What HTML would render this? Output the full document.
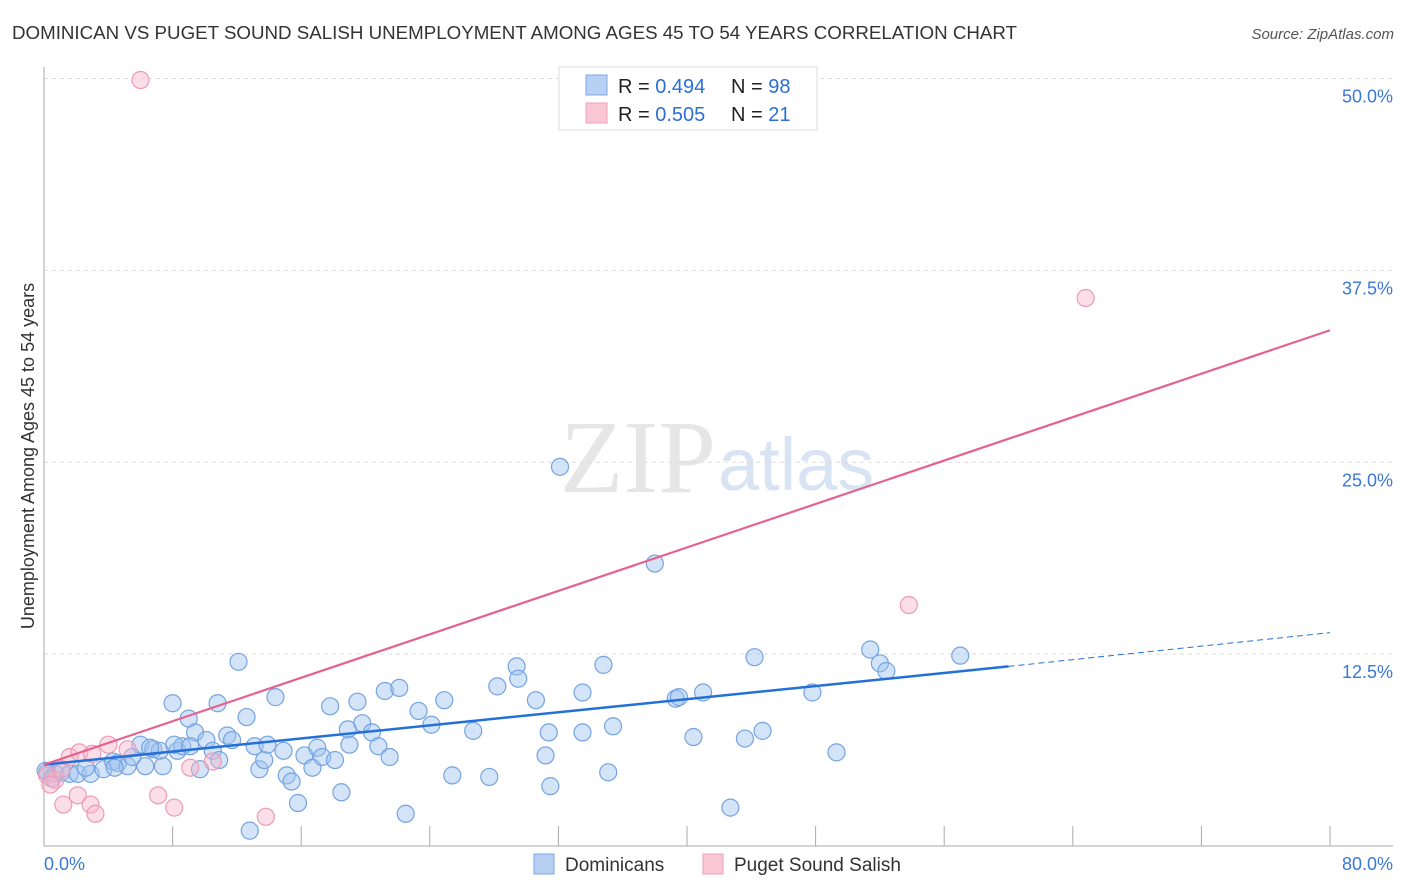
<!DOCTYPE html>
<html><head><meta charset="utf-8">
<style>
body{margin:0;background:#fff;font-family:"Liberation Sans",sans-serif;}
#wrap{position:relative;width:1406px;height:892px;overflow:hidden;}
</style></head>
<body>
<div id="wrap">
<svg id="svg" width="1406" height="892" xmlns="http://www.w3.org/2000/svg">
<text x="12" y="39" font-size="18" fill="#333" textLength="1005" lengthAdjust="spacingAndGlyphs">DOMINICAN VS PUGET SOUND SALISH UNEMPLOYMENT AMONG AGES 45 TO 54 YEARS CORRELATION CHART</text>
<text x="1394" y="39" font-size="15" fill="#555" font-style="italic" text-anchor="end">Source: ZipAtlas.com</text>
<text x="716" y="492" font-size="104" fill="#e6e6e6" font-family="Liberation Serif,serif" text-anchor="end">ZIP</text>
<text x="718" y="490" font-size="74" fill="#d8e4f4">atlas</text>
<text transform="translate(34,456) rotate(-90)" font-size="18" fill="#333" text-anchor="middle">Unemployment Among Ages 45 to 54 years</text>
<g id="grid"></g><g id="axes"></g><g id="pts"></g><g id="lines"></g>
<g>
<rect x="559" y="67" width="258" height="63" fill="#fff" stroke="#ddd"/>
<rect x="586" y="75" width="21" height="20" fill="#b7d0f3" stroke="#7fa8e0"/>
<rect x="586" y="103" width="21" height="20" fill="#f8c6d4" stroke="#eea0b8"/>
<text x="618" y="93" font-size="20" fill="#222">R = <tspan fill="#2b6fd6">0.494</tspan><tspan x="731">N = </tspan><tspan fill="#2b6fd6">98</tspan></text>
<text x="618" y="121" font-size="20" fill="#222">R = <tspan fill="#2b6fd6">0.505</tspan><tspan x="731">N = </tspan><tspan fill="#2b6fd6"> 21</tspan></text>
</g>
<g>
<rect x="534" y="854" width="20" height="20" fill="#b7d0f3" stroke="#7fa8e0"/>
<text x="565" y="871" font-size="19" fill="#333">Dominicans</text>
<rect x="703" y="854" width="20" height="20" fill="#f8c6d4" stroke="#eea0b8"/>
<text x="734" y="871" font-size="19" fill="#333">Puget Sound Salish</text>
</g>
</svg>
</div>
<script>
const yTicks=[12.5,25,37.5,50];
const yTickLabels=["12.5%","25.0%","37.5%","50.0%"];
const xTickCount=10;
const blueX=[0.2,0.7,1.1,1.6,2.1,2.9,3.7,4.3,4.6,5.2,5.5,6.0,6.3,6.8,7.2,7.4,8.0,8.3,8.6,9.0,9.4,9.7,10.1,10.5,10.8,10.9,11.4,11.7,12.1,12.6,12.8,13.1,13.4,13.7,13.9,14.4,14.9,15.1,15.4,15.8,16.2,16.7,17.0,17.3,17.8,18.1,18.5,18.9,19.0,19.5,19.8,20.4,20.8,21.2,21.5,22.1,22.5,23.3,24.1,24.9,25.4,26.7,27.7,28.2,29.4,29.5,30.6,31.2,31.4,31.5,32.1,33.5,33.5,34.8,35.1,35.4,38.0,39.3,39.5,40.4,41.0,42.7,43.6,44.2,44.7,47.8,49.3,51.4,52.0,52.4,57.0,0.1,0.5,2.6,4.4,6.6,8.1,9.1];
const blueY=[4.8,4.7,4.8,4.7,4.7,4.7,5.0,5.5,5.4,5.2,5.8,6.6,5.2,6.3,6.2,5.2,9.3,6.2,6.5,8.3,7.4,5.0,6.9,6.2,9.3,5.6,7.2,6.9,12.0,8.4,1.0,6.5,5.0,5.6,6.6,9.7,6.2,4.6,4.2,2.8,5.9,5.1,6.4,5.8,9.1,5.6,3.5,7.6,6.6,9.4,8.0,7.4,6.5,10.1,5.8,10.3,2.1,8.8,7.9,9.5,4.6,7.5,4.5,10.4,11.7,10.9,9.5,5.9,7.4,3.9,24.7,7.4,10.0,11.8,4.8,7.8,18.4,9.6,9.7,7.1,10.0,2.5,7.0,12.3,7.5,10.0,6.1,12.8,11.9,11.4,12.4,4.9,4.4,5.1,5.1,6.4,6.6,6.5];
const pinkX=[6.0,64.8,53.8,0.2,0.7,1.1,1.6,2.2,3.0,4.0,5.2,1.2,2.1,2.9,3.2,7.1,8.1,9.1,10.5,13.8,0.4];
const pinkY=[49.9,35.7,15.7,4.6,4.3,5.0,5.8,6.1,6.0,6.6,6.3,2.7,3.3,2.7,2.1,3.3,2.5,5.1,5.5,1.9,4.0];
const blueTrend=[5.3,11.7,60,13.9,80];
const pinkTrend=[5.3,33.6];
const X=v=>44+v*16.075, Y=v=>846-v*15.35;
const NS="http://www.w3.org/2000/svg";
function mk(t,a,p){const e=document.createElementNS(NS,t);for(const k in a)e.setAttribute(k,a[k]);document.getElementById(p).appendChild(e);return e;}
yTicks.forEach((t,i)=>{
 const g=mk('line',{x1:44,x2:1393,y1:Y(t),y2:Y(t),stroke:'#ddd','stroke-dasharray':'4,4'},'grid');
 
 
 const l=mk('text',{x:1393,y:Y(t)+24,'font-size':18,fill:'#3a78d8','text-anchor':'end'},'axes');
 l.textContent=yTickLabels[i];
 
 
});
mk('line',{x1:44,x2:44,y1:67,y2:846,stroke:'#aaa'},'axes');
mk('line',{x1:44,x2:1393,y1:846,y2:846,stroke:'#aaa'},'axes');
for(let i=1;i<=xTickCount;i++){const x=X(i*8);const t=mk('line',{x1:x,x2:x,y1:826,y2:846,stroke:'#aaa'},'axes');
 
 }
const a=mk('text',{x:44,y:870,'font-size':18,fill:'#3a78d8'},'axes');a.textContent='0.0%';


const b=mk('text',{x:1393,y:870,'font-size':18,fill:'#3a78d8','text-anchor':'end'},'axes');b.textContent='80.0%';


blueX.forEach((v,i)=>{const c=mk('circle',{cx:X(v),cy:Y(blueY[i]),r:8.5,fill:'rgba(160,196,240,0.45)',stroke:'#74a3e2','stroke-width':1.2},'pts');
 
 });
pinkX.forEach((v,i)=>{const c=mk('circle',{cx:X(v),cy:Y(pinkY[i]),r:8.5,fill:'rgba(246,182,202,0.45)',stroke:'#ee9ab5','stroke-width':1.2},'pts');
 
 });
const l1=mk('line',{x1:X(0),y1:Y(blueTrend[0]),x2:X(blueTrend[2]),y2:Y(blueTrend[1]),stroke:'#2370d8','stroke-width':2.5},'lines');


const l2=mk('line',{x1:X(blueTrend[2]),y1:Y(blueTrend[1]),x2:X(blueTrend[4]),y2:Y(blueTrend[3]),stroke:'#2370d8','stroke-width':1,'stroke-dasharray':'6,4'},'lines');


const l3=mk('line',{x1:X(0),y1:Y(pinkTrend[0]),x2:X(80),y2:Y(pinkTrend[1]),stroke:'#e5628e','stroke-width':2.2},'lines');


</script>
</body></html>
